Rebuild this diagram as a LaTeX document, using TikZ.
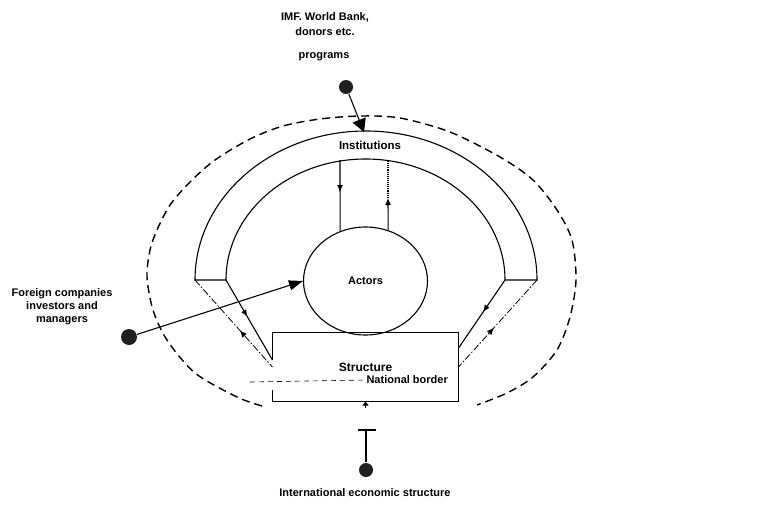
\documentclass[tikz,border=0pt]{standalone}
\usepackage{fontspec}
\setmainfont{Liberation Sans}
\usetikzlibrary{arrows.meta,decorations.markings,shapes.geometric}

\begin{document}
\begin{tikzpicture}[x=1pt,y=-1pt,line width=1.1pt,
txt/.style={font=\bfseries\fontsize{11}{13}\selectfont,align=center,inner sep=0pt},
blob/.style={circle,fill=black!88,inner sep=0pt,minimum size=14pt},
border line/.style={dash pattern=on 8pt off 5pt,line width=1.4pt},
dash dot line/.style={dash pattern=on 7pt off 2pt on 1.5pt off 2pt,line width=0.8pt},
mark down/.style={postaction={decorate},decoration={markings,
mark=at position #1 with {\arrow{Latex[length=7pt,width=6pt]}}}},
mark up/.style={postaction={decorate},decoration={markings,
mark=at position #1 with {\arrowreversed{Latex[length=7pt,width=6pt]}}}}]
\fill[white] (0,0) rectangle (765,511);
\useasboundingbox (0,0) rectangle (765,511);
% the national border
\draw[border line] plot[smooth] coordinates {(262,406) (237,397) (195,373)
(167,340) (153,310) (147,277) (150,250) (157,230) (170,205) (190,182)
(215,160) (250,139) (283,126) (320,119) (360,116) (400,118) (450,132)
(500,157) (533,180) (557,210) (572,240) (576,280) (570,317) (557,350)
(533,377) (507,393) (477,405)};
% institutions
\coordinate (inst ol) at (195,280);
\coordinate (inst il) at (226,280);
\coordinate (inst ir) at (505,280);
\coordinate (inst or) at (537,280);
\draw (inst ol) arc[start angle=180,end angle=360,x radius=171,y radius=149]
-- (inst ir) arc[start angle=0,end angle=-180,x radius=139.5,y radius=121]
-- cycle;
\node [txt,font=\bfseries\fontsize{11.5}{13}\selectfont] (institutions) at (370,145) {Institutions};
% actors and structure
\node [txt,draw,ellipse,minimum width=124pt,minimum height=108pt] (actors) at (365.5,281) {Actors};
\node [txt,font=\bfseries\fontsize{12}{13}\selectfont,minimum width=185pt,minimum height=68pt] (structure) at (365.5,367) {Structure};
\draw ([yshift=7pt]structure.west) -- (structure.north west) -- (structure.north east)
-- (structure.south east) -- (structure.south west) -- ([yshift=-23pt]structure.west);
\node [txt,anchor=west] (border) at (366,380) {National border};
\coordinate (border start) at (250,382);
\draw[dash pattern=on 5pt off 4pt,line width=0.6pt] (border start) -- (border.west);
% links between the parts
\coordinate (inst a) at (340,160);
\coordinate (inst b) at (388,161);
\coordinate (feedback tip) at (388,198);
\draw[mark down=0.45] (inst a) -- (actors.117);
\draw[densely dotted] (inst b) -- (feedback tip);
\draw[-{Latex[length=7pt,width=6pt]}] (actors.66) -- (feedback tip);
\draw[mark down=0.46] (inst il) -- ([yshift=7pt]structure.west);
\draw[dash dot line,mark up=0.58] (inst ol) -- (structure.west);
\draw[mark down=0.47] (inst ir) -- ([yshift=19pt]structure.east);
\draw[dash dot line,mark up=0.55] (inst or) -- (structure.east);
% outside influences
\node [txt,font=\bfseries\fontsize{11}{15}\selectfont] (imf) at (325,24.5) {IMF. World Bank,\\donors etc.};
\node [txt] (programs) at (324,57) {programs};
\node [blob] (imf dot) at (346,87) {};
\coordinate (inst top) at (364,132);
\draw[-{Triangle[length=13pt,width=14pt]}] (imf dot) -- (inst top);
\node [txt] (foreign) at (62,307) {Foreign companies\\investors and\\managers};
\node [blob,minimum width=16pt] (foreign dot) at (129,337) {};
\draw[-{Triangle[length=14pt,width=10pt]}] (foreign dot) -- (actors.west);
\node [txt] (ies) at (365,493) {International economic structure};
\node [blob] (ies dot) at (366,470) {};
\coordinate (ies gap) at (366,430);
\draw (ies dot) -- (ies gap);
\draw ([xshift=-8pt]ies gap) -- ([xshift=10pt]ies gap);
\draw[-{Triangle[length=4pt,width=6pt]}] ([yshift=-6pt]structure.south) -- (structure.south);
\end{tikzpicture}
\end{document}
